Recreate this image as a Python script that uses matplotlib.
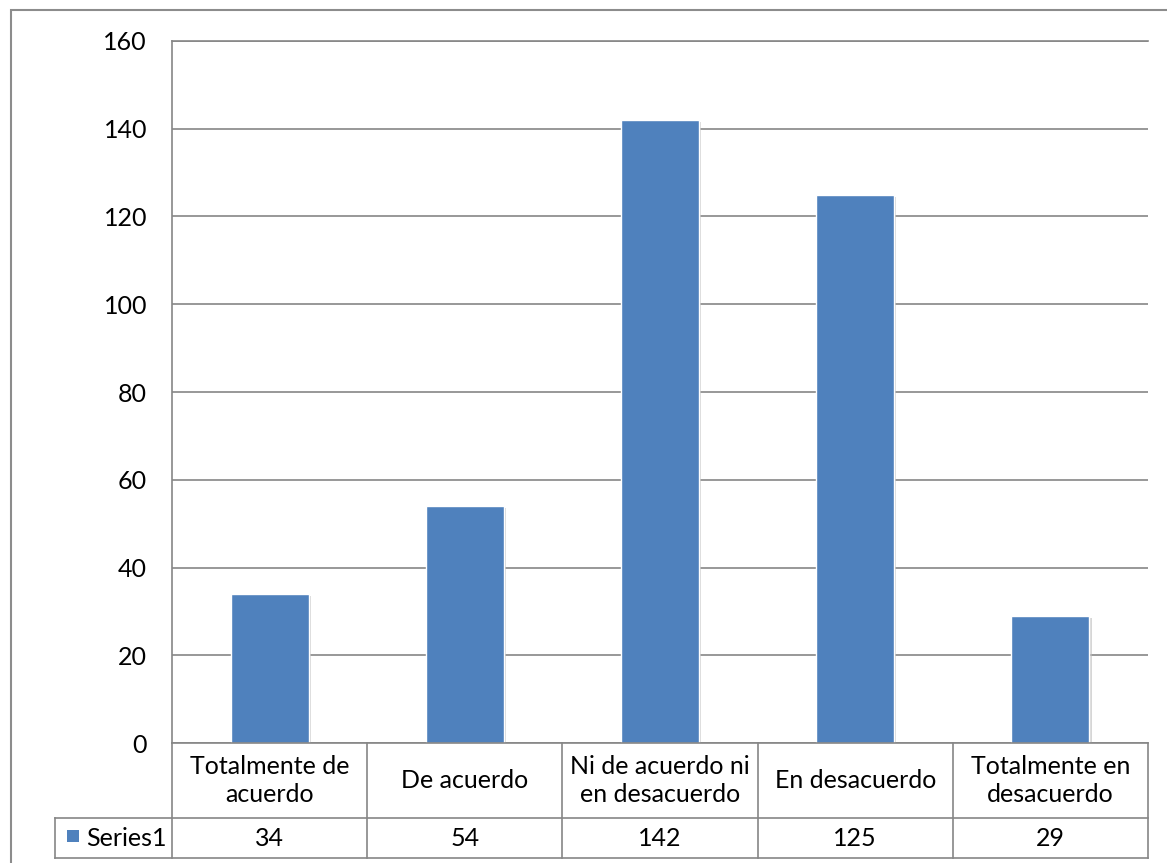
import matplotlib.pyplot as plt
import matplotlib.patheffects as pe
from matplotlib.patches import Rectangle
from matplotlib.transforms import blended_transform_factory

categories = ["Totalmente de\nacuerdo", "De acuerdo", "Ni de acuerdo ni\nen desacuerdo",
              "En desacuerdo", "Totalmente en\ndesacuerdo"]
values = [34, 54, 142, 125, 29]
series_name = "Series1"

plt.rcParams['font.family'] = ['Lato', 'DejaVu Sans']
W, H = 1167, 863
fs = 18
fig = plt.figure(figsize=(W / 100, H / 100), dpi=100)

# outer chart frame (right/bottom run off the image)
fig.patches.append(Rectangle((11 / W, -0.1), 1.2, 1 - 10 / H + 0.1, transform=fig.transFigure,
                             fill=False, edgecolor='#8c8c8c', linewidth=1.5))

left, right, top, bottom = 172, 1148, 41, 743
ax = fig.add_axes([left / W, 1 - bottom / H, (right - left) / W, (bottom - top) / H])

blue = '#4F81BD'
grid = '#868686'
x = range(len(values))
ax.bar(x, values, width=0.4, color=blue, edgecolor='white', linewidth=1, zorder=3,
       path_effects=[pe.SimplePatchShadow(offset=(1.5, -1.5), shadow_rgbFace='#bbbbbb', alpha=0.6),
                     pe.Normal()])

ax.set_xlim(-0.5, len(values) - 0.5)
ax.set_ylim(0, 160)
ax.set_yticks(range(0, 161, 20))
ax.tick_params(axis='y', length=0, labelsize=fs, pad=18)
ax.tick_params(axis='x', length=0, labelbottom=False)
ax.yaxis.grid(True, color=grid, linewidth=1.2, zorder=0)
for s in ['right', 'bottom']:
    ax.spines[s].set_visible(False)
ax.spines['top'].set_color(grid)
ax.spines['top'].set_linewidth(1.2)
ax.spines['left'].set_color(grid)
ax.spines['left'].set_linewidth(1.2)

# data table below the axis
ph = bottom - top
y0 = 0.0
y1 = -(818 - bottom) / ph
y2 = -(858 - bottom) / ph
trans = blended_transform_factory(ax.transData, ax.transAxes)
n = len(values)
xl = -0.5 - (left - 55) / ((right - left) / n)
lk = dict(color=grid, linewidth=1.2, transform=trans, clip_on=False, zorder=5)
ax.plot([-0.5, n - 0.5], [y0, y0], **lk)
ax.plot([xl, n - 0.5], [y1, y1], **lk)
ax.plot([xl, n - 0.5], [y2, y2], **lk)
ax.plot([xl, xl], [y1, y2], **lk)
for i in range(n + 1):
    ax.plot([i - 0.5, i - 0.5], [y0, y2], **lk)

for i, (c, v) in enumerate(zip(categories, values)):
    ax.text(i, (y0 + y1) / 2, c, transform=trans, ha='center', va='center',
            fontsize=fs, linespacing=1.25, clip_on=False)
    ax.text(i, (y1 + y2) / 2, str(v), transform=trans, ha='center', va='center',
            fontsize=fs, clip_on=False)

fig.patches.append(Rectangle((67 / W, 1 - 842 / H), 12 / W, 12 / H, transform=fig.transFigure,
                             facecolor=blue, edgecolor='none'))
ax.text(86 / W, 1 - 838 / H, series_name, transform=fig.transFigure, ha='left',
        va='center', fontsize=fs)

fig.savefig('out.png', dpi=100)
